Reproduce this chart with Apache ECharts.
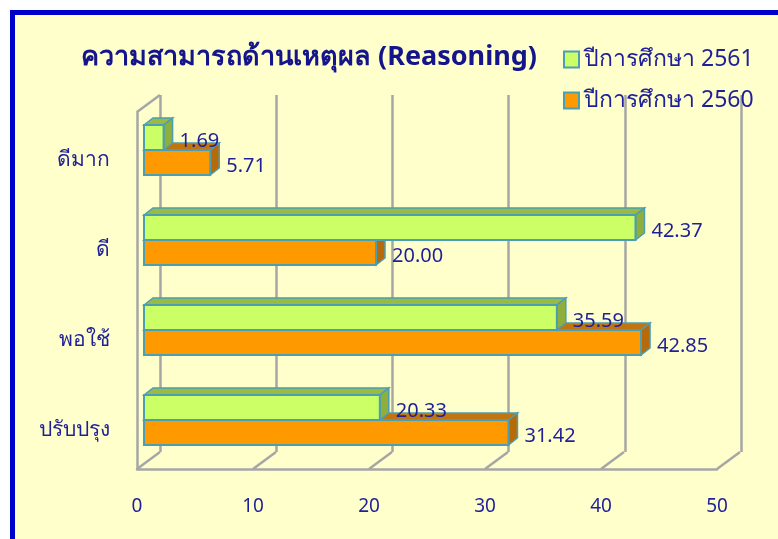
<!DOCTYPE html>
<html>
<head>
<meta charset="utf-8">
<script src="https://cdn.jsdelivr.net/npm/echarts@6/dist/echarts.min.js"></script>
<style>
html, body { margin: 0; padding: 0; background: #fff; overflow: hidden; }
#frame { position: absolute; left: 10px; top: 10px; width: 800px; height: 600px; border: 5px solid #0000cc; background: #ffffcc; }
#chart { position: absolute; left: 0; top: 0; width: 778px; height: 539px; }
</style>
</head>
<body>
<div id="frame"></div>
<div id="chart"></div>
<script>
// ข้อมูล
var categories = ["ดีมาก", "ดี", "พอใช้", "ปรับปรุง"];
var year2561 = [1.69, 42.37, 35.59, 20.33];
var year2560 = [5.71, 20.00, 42.85, 31.42];
var seriesNames = ["ปีการศึกษา 2561", "ปีการศึกษา 2560"];
var xTicks = [0, 10, 20, 30, 40, 50];

var textBlue = "#1f1f9a";
var gridGray = "#a6a6a6";
var edge = "#4a9fb5";
var font = "'Noto Sans', 'DejaVu Sans', sans-serif";

// กล่องสามมิติของแต่ละแท่ง
function boxRender(upper, front, top, side) {
  return function (params, api) {
    var v = api.value(0), c = api.value(1);
    var p0 = api.coord([0, c]);
    var p1 = api.coord([v, c]);
    var h = 25, d = 9, e = 7;
    var y = upper ? p0[1] - h : p0[1];
    var x0 = p0[0], x1 = p1[0];
    var line = { stroke: edge, lineWidth: 1.5 };
    return {
      type: "group",
      children: [
        { type: "polygon", shape: { points: [[x0, y], [x0 + d, y - e], [x1 + d, y - e], [x1, y]] },
          style: Object.assign({ fill: top }, line) },
        { type: "polygon", shape: { points: [[x1, y], [x1 + d, y - e], [x1 + d, y + h - e], [x1, y + h]] },
          style: Object.assign({ fill: side }, line) },
        { type: "rect", shape: { x: x0, y: y, width: x1 - x0, height: h },
          style: { fill: front, stroke: edge, lineWidth: 2 } },
        { type: "text", x: x1 + 16, y: y + h / 2 + 4,
          style: { text: v.toFixed(2), fill: textBlue, font: "20px " + font, verticalAlign: "middle", align: "left" } }
      ]
    };
  };
}

// เส้นพื้นและผนังด้านซ้าย
function floorRender(params, api) {
  var cs = params.coordSys;
  var x = api.coord([api.value(0), 0])[0];
  var bottom = cs.y + cs.height;
  var children = [
    { type: "line", shape: { x1: x, y1: bottom, x2: x + 23, y2: bottom - 17 },
      style: { stroke: gridGray, lineWidth: 2.5 } }
  ];
  if (api.value(0) === 0) {
    children.push({ type: "line", shape: { x1: x, y1: cs.y, x2: x + 23, y2: cs.y - 17 },
      style: { stroke: gridGray, lineWidth: 2.5 } });
  }
  return { type: "group", children: children };
}

var myChart = echarts.init(document.getElementById("chart"));
var option = {
  backgroundColor: "transparent",
  animation: false,
  title: {
    text: "ความสามารถด้านเหตุผล (Reasoning)",
    left: 76, top: 39,
    textStyle: { color: "#14148c", fontSize: 27, fontWeight: "bold", fontFamily: font }
  },
  legend: {
    orient: "vertical",
    left: 558, top: 43,
    itemWidth: 15, itemHeight: 16, itemGap: 18,
    textStyle: { color: textBlue, fontSize: 23, fontFamily: font },
    data: [
      { name: seriesNames[0], icon: "rect", itemStyle: { color: "#ccff66", borderColor: edge, borderWidth: 2 } },
      { name: seriesNames[1], icon: "rect", itemStyle: { color: "#ff9900", borderColor: edge, borderWidth: 2 } }
    ]
  },
  grid: [
    // ผนังด้านหลัง
    { left: 160, right: 37, top: 95, bottom: 87 },
    // ระนาบด้านหน้า
    { left: 137, right: 61, top: 112, bottom: 70 },
    // ระนาบของแท่ง
    { left: 144, right: 54, top: 105, bottom: 74 }
  ],
  xAxis: [
    { gridIndex: 0, type: "value", min: 0, max: 50, interval: 10,
      axisLabel: { show: false }, axisLine: { show: false }, axisTick: { show: false },
      splitLine: { show: true, showMinLine: true, showMaxLine: true, lineStyle: { color: gridGray, width: 2.5 } } },
    { gridIndex: 1, type: "value", min: 0, max: 50, interval: 10,
      axisLine: { show: true, lineStyle: { color: gridGray, width: 2.5 } },
      axisTick: { show: false }, splitLine: { show: false },
      axisLabel: { margin: 28, color: textBlue, fontSize: 19, fontFamily: font } },
    { gridIndex: 2, type: "value", min: 0, max: 50, show: false }
  ],
  yAxis: [
    { gridIndex: 0, type: "category", data: categories, show: false },
    { gridIndex: 1, type: "category", data: categories, inverse: true,
      axisLine: { show: true, lineStyle: { color: gridGray, width: 2.5 } },
      axisTick: { show: false }, axisLabel: { show: false } },
    { gridIndex: 2, type: "category", data: categories, inverse: true,
      axisLine: { show: false }, axisTick: { show: false },
      axisLabel: { margin: 34, verticalAlign: "top", color: textBlue, fontSize: 21, fontFamily: font } }
  ],
  series: [
    { type: "custom", name: "floor", xAxisIndex: 1, yAxisIndex: 1, z: 1, silent: true,
      renderItem: floorRender, data: xTicks.map(function (t) { return [t]; }) },
    { type: "custom", name: seriesNames[1], xAxisIndex: 2, yAxisIndex: 2, z: 3,
      itemStyle: { color: "#ff9900" },
      renderItem: boxRender(false, "#ff9900", "#c2740f", "#b86a08"),
      encode: { x: 0, y: 1 },
      data: year2560.map(function (v, i) { return [v, i]; }) },
    { type: "custom", name: seriesNames[0], xAxisIndex: 2, yAxisIndex: 2, z: 4,
      itemStyle: { color: "#ccff66" },
      renderItem: boxRender(true, "#ccff66", "#99bb44", "#8fae3c"),
      encode: { x: 0, y: 1 },
      data: year2561.map(function (v, i) { return [v, i]; }) }
  ]
};
if (option && typeof option === "object") {
  myChart.setOption(option);
}
</script>
</body>
</html>
